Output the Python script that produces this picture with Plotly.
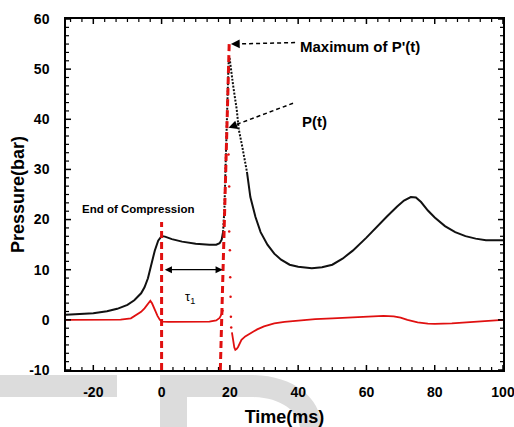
import plotly.graph_objects as go

# ---------------- data ----------------
t_p = [-28, -25, -20, -16, -13, -10, -8, -6, -5, -4, -3, -2, -1, 0, 1, 3, 6, 10, 14, 16, 17, 17.6, 18.0,
       18.4, 18.8, 19.2, 19.6, 19.9,
       20.5, 21, 22, 22.6, 23.5, 24.3, 25,
       26, 27.5, 29, 31, 33, 35, 37.5, 40, 44, 47, 50, 53, 56, 60, 63, 66, 69, 71, 73, 74.5, 76, 78, 80,
       83, 86, 89, 92, 95, 100]
p_t = [1.0, 1.1, 1.3, 1.7, 2.2, 3.0, 3.9, 5.3, 6.5, 8.3, 11.0, 13.8, 15.8, 16.7, 16.6, 16.1, 15.6, 15.2, 15.0, 15.0, 15.3, 16.0, 17.5,
       22, 32, 44, 51, 52.3,
       49, 46.5, 42, 38, 35, 32, 29.5,
       24.5, 20.5, 17.5, 15.0, 13.2, 12.0, 11.0, 10.6, 10.3, 10.5, 11.0, 12.2, 13.8, 16.4, 18.6, 20.6, 22.6, 23.8, 24.5, 24.4, 23.5, 21.8, 20.4,
       18.7, 17.5, 16.7, 16.2, 15.9, 15.9]

# derivative P'(t) (scaled), smooth parts
t_d1 = [-28, -20, -12, -9, -7.5, -6, -5, -4, -3.3, -2.8, -2, -1.2, -0.5, 0.3, 2, 8, 14, 16, 17, 17.6, 18.0]
d_1 = [0.0, 0.0, 0.05, 0.3, 0.9, 1.6, 2.3, 3.1, 3.8, 3.3, 2.0, 0.8, 0.0, -0.35, -0.4, -0.45, -0.35, -0.1, 0.4, 1.2, 2.0]
# sparse points of the spike
t_ds = [19.6, 19.8, 19.8, 20.0, 20.1, 20.2, 20.3, 20.4]
d_s = [33, 26.6, 17.6, 13.9, 8.5, 4.6, 0.6, -1.5]
# after the spike
t_d2 = [20.6, 20.8, 21.0, 21.3, 21.6, 22.0, 22.4, 22.8, 23.4, 24.5, 25.9, 28, 30, 33, 36, 40, 45, 50, 55, 60, 65,
        68, 70, 72, 75, 78, 80, 85, 90, 95, 100]
d_2 = [-2.5, -3.5, -4.7, -5.5, -6.0, -5.8, -5.4, -4.8, -4.0, -3.3, -2.7, -1.9, -1.3, -0.7, -0.4, -0.1, 0.15, 0.3, 0.45, 0.6, 0.8,
       0.7, 0.45, 0.0, -0.5, -0.75, -0.8, -0.7, -0.45, -0.2, 0.0]

x_ticks = [-20, 0, 20, 40, 60, 80, 100]
x_ticktext = ["-20", "0", "20", "40", "60", "80", "100"]
y_ticks = [-10, 0, 10, 20, 30, 40, 50, 60]
y_ticktext = ["-10", "0", "10", "20", "30", "40", "50", "60"]
x_minor_per_major = 5
y_minor_per_major = 5

x_range = [-28, 100]
y_range = [-10, 60]

# ---------------- figure ----------------
BLACK = "#000000"
LINE_BLACK = "#111111"
RED = "#e01010"
FONT = "Arial, Liberation Sans, sans-serif"
L, R, T, B = 66, 503, 19, 370   # plot-area pixel box

fig = go.Figure()

i_rise = t_p.index(18.0)
i_dot_end = t_p.index(25)

fig.add_trace(go.Scatter(x=t_p[:i_rise + 1], y=p_t[:i_rise + 1], mode="lines",
                         line=dict(color=LINE_BLACK, width=2), showlegend=False, hoverinfo="skip"))
fig.add_trace(go.Scatter(x=t_p[i_rise:i_dot_end + 1], y=p_t[i_rise:i_dot_end + 1], mode="lines",
                         line=dict(color=LINE_BLACK, width=2, dash="2px,1.5px"), showlegend=False, hoverinfo="skip"))
fig.add_trace(go.Scatter(x=t_p[i_dot_end:], y=p_t[i_dot_end:], mode="lines",
                         line=dict(color=LINE_BLACK, width=2), showlegend=False, hoverinfo="skip"))

fig.add_trace(go.Scatter(x=t_d1, y=d_1, mode="lines", line=dict(color=RED, width=1.8),
                         showlegend=False, hoverinfo="skip"))
fig.add_trace(go.Scatter(x=t_ds, y=d_s, mode="markers", marker=dict(color=RED, size=2.5),
                         showlegend=False, hoverinfo="skip"))
fig.add_trace(go.Scatter(x=t_d2, y=d_2, mode="lines", line=dict(color=RED, width=1.8),
                         showlegend=False, hoverinfo="skip"))

# ---- tick marks drawn as line traces (Origin style) ----
ux = (x_range[1] - x_range[0]) / (R - L)   # data units per pixel
uy = (y_range[1] - y_range[0]) / (B - T)

def minor_vals(ticks, step, n, lo, hi):
    out = []
    d = step / (n + 1)
    k = -200
    while True:
        v = ticks[0] + k * d
        k += 1
        if v > hi + 1e-9:
            break
        if v < lo - 1e-9 or abs(((v - ticks[0]) / step) - round((v - ticks[0]) / step)) < 1e-6:
            continue
        out.append(v)
    return out

x_minor = minor_vals(x_ticks, x_ticks[1] - x_ticks[0], x_minor_per_major, *x_range)
y_minor = minor_vals(y_ticks, y_ticks[1] - y_ticks[0], y_minor_per_major, *y_range)

def seg_x(vals, b0, b1, t0, t1):
    xs, ys = [], []
    for v in vals:
        xs += [v, v, None, v, v, None]
        ys += [y_range[0] + b0 * uy, y_range[0] + b1 * uy, None,
               y_range[1] - t0 * uy, y_range[1] - t1 * uy, None]
    return xs, ys

def seg_y(vals, l0, l1, r0, r1):
    xs, ys = [], []
    for v in vals:
        ys += [v, v, None, v, v, None]
        xs += [x_range[0] + l0 * ux, x_range[0] + l1 * ux, None,
               x_range[1] - r0 * ux, x_range[1] - r1 * ux, None]
    return xs, ys

for (xs, ys), w in [(seg_x(x_ticks, -5, 5, 0, 5), 1.5), (seg_x(x_minor, 0, 3, 0, 3), 1.2),
                    (seg_y(y_ticks, -5, 5, 0, 5), 1.5), (seg_y(y_minor, 0, 3, 0, 3), 1.2)]:
    fig.add_trace(go.Scatter(x=xs, y=ys, mode="lines", line=dict(color=BLACK, width=w),
                             cliponaxis=False, showlegend=False, hoverinfo="skip", connectgaps=False))

# red dashed marker lines
fig.add_shape(type="line", x0=0, x1=0, y0=-10, y1=19.5, xref="x", yref="y",
              line=dict(color=RED, width=3, dash="7px,4px"))
fig.add_shape(type="line", x0=17.2, x1=19.8, y0=-10, y1=55, xref="x", yref="y",
              line=dict(color=RED, width=3, dash="7px,4px"))

# dashed leader lines for labels
fig.add_shape(type="line", x0=39.1, y0=55.3, x1=21.0, y1=55.0, xref="x", yref="y",
              line=dict(color=BLACK, width=1.5, dash="4px,3px"))
fig.add_shape(type="line", x0=38.5, y0=43.2, x1=20.5, y1=38.6, xref="x", yref="y",
              line=dict(color=BLACK, width=1.5, dash="4px,3px"))

# watermark-like grey shapes below the axis (paper coords from pixel positions)
def px(xp):
    return (xp - L) / (R - L)
def py(yp):
    return (B - yp) / (B - T)

GREY = "#dcdcdc"
fig.add_shape(type="rect", xref="paper", yref="paper", x0=px(0), x1=px(117), y0=py(375), y1=py(397),
              fillcolor=GREY, line=dict(width=0), layer="below")
fig.add_shape(type="rect", xref="paper", yref="paper", x0=px(160), x1=px(187), y0=py(375), y1=py(427),
              fillcolor=GREY, line=dict(width=0), layer="below")
pts = [("M", [(187, 375)]), ("L", [(250, 375)]), ("C", [(292, 375), (320, 396), (322, 427)]),
       ("L", [(300, 427)]), ("C", [(297, 410), (280, 397), (250, 397)]), ("L", [(187, 397)])]
path = ""
for cmd, cs in pts:
    path += cmd + " " + " ".join(f"{px(a):.4f},{py(b):.4f}" for a, b in cs) + " "
path += "Z"
fig.add_shape(type="path", xref="paper", yref="paper", path=path,
              fillcolor=GREY, line=dict(width=0), layer="below")

# annotations
fig.add_annotation(x=40, y=54.6, text="Maximum of P'(t)", showarrow=False, xanchor="left", yanchor="middle",
                   font=dict(family=FONT, size=15, color=BLACK, weight="bold"))
fig.add_annotation(x=40.6, y=39.5, text="P(t)", showarrow=False, xanchor="left", yanchor="middle",
                   font=dict(family=FONT, size=15, color=BLACK, weight="bold"))
fig.add_annotation(x=-6.9, y=22.1, text="End of Compression", showarrow=False, xanchor="center", yanchor="middle",
                   font=dict(family=FONT, size=11.5, color=BLACK, weight="bold"))
fig.add_annotation(x=8.2, y=4.4, text="τ<sub>1</sub>", showarrow=False, xanchor="center", yanchor="middle",
                   font=dict(family=FONT, size=13, color=BLACK))

# arrowheads
fig.add_annotation(x=20.3, y=55.0, ax=22.5, ay=55.03, axref="x", ayref="y", text="", showarrow=True,
                   arrowhead=2, arrowsize=1.1, arrowwidth=1.6, arrowcolor=BLACK)
fig.add_annotation(x=19.6, y=38.3, ax=21.6, ay=38.8, axref="x", ayref="y", text="", showarrow=True,
                   arrowhead=2, arrowsize=1.1, arrowwidth=1.6, arrowcolor=BLACK)
fig.add_annotation(x=17.9, y=10, ax=0.5, ay=10, axref="x", ayref="y", text="", showarrow=True,
                   arrowhead=2, arrowside="end+start", arrowsize=1.1, arrowwidth=1.3, arrowcolor=BLACK)

tickfont = dict(family=FONT, size=14, color=BLACK, weight="bold")
titlefont = dict(family=FONT, size=18, color=BLACK, weight="bold")

fig.update_layout(
    width=514, height=427,
    margin=dict(l=L, r=514 - R, t=T, b=427 - B, autoexpand=False),
    paper_bgcolor="white", plot_bgcolor="white",
    showlegend=False,
    xaxis=dict(range=x_range, tickvals=x_ticks, ticktext=x_ticktext, ticks="",
               showline=True, linewidth=1.5, linecolor=BLACK, mirror=True,
               showgrid=False, zeroline=False, automargin=False,
               tickfont=tickfont, ticklabelstandoff=8, ticklabeloverflow="allow",
               title=dict(text="Time(ms)", font=titlefont, standoff=18)),
    yaxis=dict(range=y_range, tickvals=y_ticks, ticktext=y_ticktext, ticks="",
               showline=True, linewidth=1.5, linecolor=BLACK, mirror=True,
               showgrid=False, zeroline=False, automargin=False,
               tickfont=tickfont, ticklabelstandoff=12,
               title=dict(text="Pressure(bar)", font=titlefont, standoff=0)),
)

fig.write_html("out.html")
